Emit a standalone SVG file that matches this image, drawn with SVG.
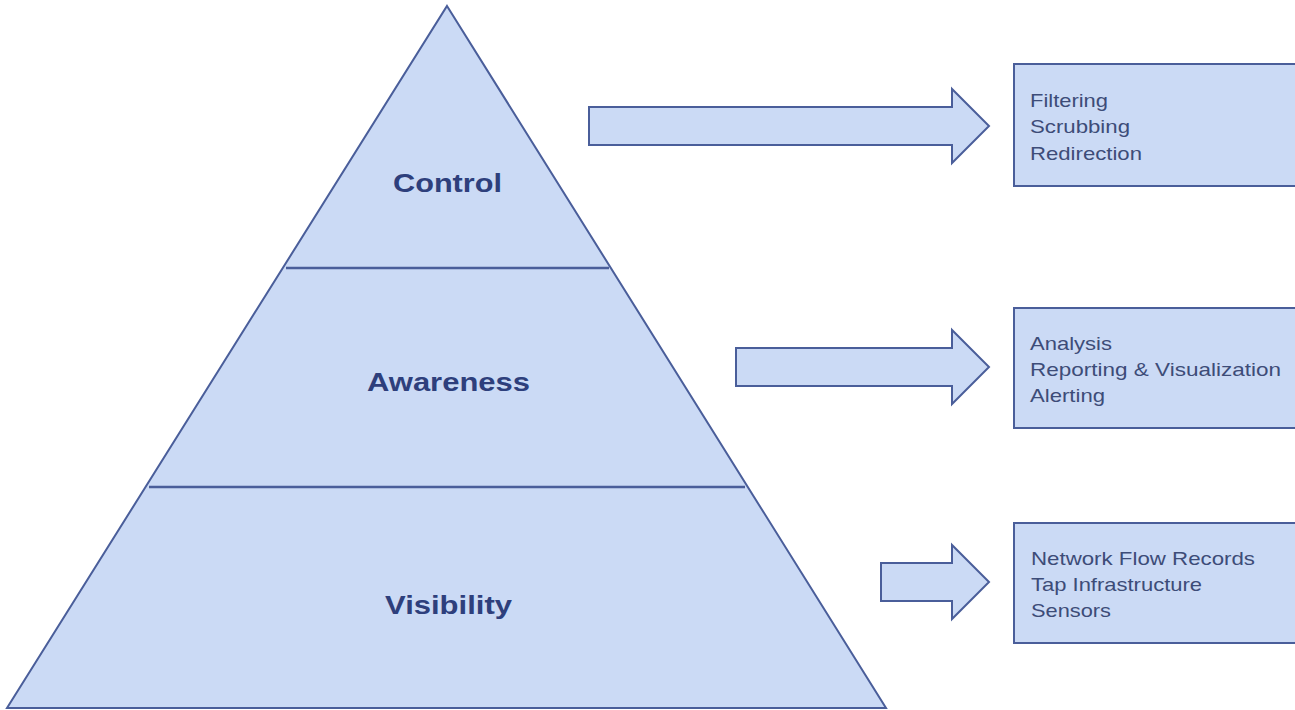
<svg xmlns="http://www.w3.org/2000/svg" width="1295" height="710" viewBox="0 0 1295 710">
<style>
.shape{fill:#cbdaf5;stroke:#4a5e9a;stroke-width:2;stroke-linejoin:miter}
.div{stroke:#4a5e9a;stroke-width:2.5}
.lvl{font-family:"Liberation Sans",Arial,sans-serif;font-weight:bold;font-size:26px;fill:#2e3f7c;text-anchor:middle}
.item{font-family:"Liberation Sans",Arial,sans-serif;font-size:19px;fill:#3d4c78}
</style>
<rect width="1295" height="710" fill="#ffffff"/>
<g id="pyramid">
<polygon class="shape" points="447,6 886,708 7,708"/>
<line class="div" x1="286" y1="268" x2="609" y2="268"/>
<line class="div" x1="149" y1="487" x2="745" y2="487"/>
</g>
<g id="control"><text class="lvl" x="447.5" y="192" textLength="109" lengthAdjust="spacingAndGlyphs">Control</text></g>
<g id="awareness"><text class="lvl" x="448.5" y="391" textLength="163" lengthAdjust="spacingAndGlyphs">Awareness</text></g>
<g id="visibility"><text class="lvl" x="448.5" y="614" textLength="127" lengthAdjust="spacingAndGlyphs">Visibility</text></g>
<g id="connectors">
<polygon class="shape" points="589,107 952,107 952,89 989,126 952,163 952,145 589,145"/>
<polygon class="shape" points="736,348 952,348 952,330 989,367 952,404 952,386 736,386"/>
<polygon class="shape" points="881,563 952,563 952,545 989,582 952,619 952,601 881,601"/>
</g>
<g id="box-control">
<rect class="shape" x="1014" y="64" width="290" height="122"/>
<text class="item" x="1030" y="107" textLength="78" lengthAdjust="spacingAndGlyphs">Filtering</text>
<text class="item" x="1030" y="133" textLength="100" lengthAdjust="spacingAndGlyphs">Scrubbing</text>
<text class="item" x="1030" y="160" textLength="112" lengthAdjust="spacingAndGlyphs">Redirection</text>
</g>
<g id="box-awareness">
<rect class="shape" x="1014" y="308" width="290" height="120"/>
<text class="item" x="1030" y="350" textLength="82" lengthAdjust="spacingAndGlyphs">Analysis</text>
<text class="item" x="1030" y="376" textLength="251" lengthAdjust="spacingAndGlyphs">Reporting &amp; Visualization</text>
<text class="item" x="1030" y="402" textLength="75" lengthAdjust="spacingAndGlyphs">Alerting</text>
</g>
<g id="box-visibility">
<rect class="shape" x="1014" y="523" width="290" height="120"/>
<text class="item" x="1031" y="565" textLength="224" lengthAdjust="spacingAndGlyphs">Network Flow Records</text>
<text class="item" x="1031" y="591" textLength="171" lengthAdjust="spacingAndGlyphs">Tap Infrastructure</text>
<text class="item" x="1031" y="617" textLength="80" lengthAdjust="spacingAndGlyphs">Sensors</text>
</g>
</svg>
